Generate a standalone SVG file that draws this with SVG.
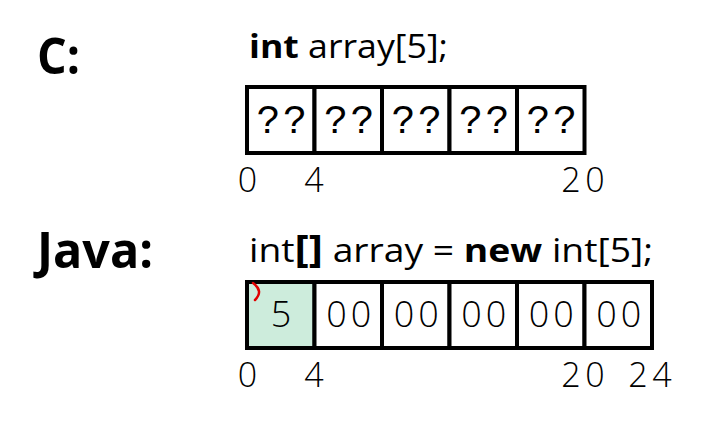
<svg xmlns="http://www.w3.org/2000/svg" width="702" height="424" viewBox="0 0 702 424">
<style>
.title{font-family:"Open Sans","Liberation Sans",sans-serif;font-weight:bold;font-size:50px;fill:#000}
.code{font-family:"Open Sans","Liberation Sans",sans-serif;font-size:33px;fill:#000}
.b{font-weight:bold}
.cell{fill:#fff;stroke:#000;stroke-width:4}
.first{fill:#cdecdc;stroke:#000;stroke-width:4}
.val{font-family:"Open Sans","Liberation Sans",sans-serif;font-weight:300;font-size:36px;fill:#000;text-anchor:middle}
.q{font-family:"Liberation Mono","DejaVu Sans Mono",monospace;font-size:40px;fill:#000;text-anchor:middle}
.lbl{font-family:"Open Sans","Liberation Sans",sans-serif;font-weight:300;font-size:34px;fill:#000;text-anchor:middle}
</style>
<rect width="702" height="424" fill="#fff"/>
<g id="c-title">
<text class="title" x="37" y="74" textLength="43" lengthAdjust="spacingAndGlyphs">C:</text>
<text class="code" x="249" y="58" textLength="199" lengthAdjust="spacingAndGlyphs"><tspan class="b">int</tspan> array[5];</text>
</g>
<g id="c-array">
<rect class="cell" x="247" y="87" width="67.5" height="66"/>
<rect class="cell" x="314.5" y="87" width="67.5" height="66"/>
<rect class="cell" x="382" y="87" width="67.5" height="66"/>
<rect class="cell" x="449.5" y="87" width="67.5" height="66"/>
<rect class="cell" x="517" y="87" width="67.5" height="66"/>
<text class="q" x="268.5 295" y="133">??</text>
<text class="q" x="336 362.5" y="133">??</text>
<text class="q" x="403.5 430" y="133">??</text>
<text class="q" x="471 497.5" y="133">??</text>
<text class="q" x="538.5 565" y="133">??</text>
</g>
<g id="c-labels">
<text class="lbl" x="247.5" y="192">0</text>
<text class="lbl" x="314" y="192">4</text>
<text class="lbl" x="571 595" y="192">20</text>
</g>
<g id="java-title">
<text class="title" x="37" y="268" textLength="116" lengthAdjust="spacingAndGlyphs">Java:</text>
<text class="code" x="249" y="262" textLength="404" lengthAdjust="spacingAndGlyphs">int<tspan class="b" font-size="38">[]</tspan> array = <tspan class="b">new</tspan> int[5];</text>
</g>
<g id="java-array">
<rect class="first" x="247" y="282" width="67.5" height="66"/>
<rect class="cell" x="314.5" y="282" width="67.5" height="66"/>
<rect class="cell" x="382" y="282" width="67.5" height="66"/>
<rect class="cell" x="449.5" y="282" width="67.5" height="66"/>
<rect class="cell" x="517" y="282" width="67.5" height="66"/>
<rect class="cell" x="584.5" y="282" width="67.5" height="66"/>
<text class="val" x="281" y="327">5</text>
<text class="val" x="336.5 361" y="327">00</text>
<text class="val" x="404 428.5" y="327">00</text>
<text class="val" x="471.5 496" y="327">00</text>
<text class="val" x="539 563.5" y="327">00</text>
<text class="val" x="606.5 631" y="327">00</text>
<path d="M253,283 Q264,291 255,300" fill="none" stroke="#e00000" stroke-width="2.5" stroke-linecap="round"/>
</g>
<g id="java-labels">
<text class="lbl" x="247.5" y="387">0</text>
<text class="lbl" x="314" y="387">4</text>
<text class="lbl" x="571 595" y="387">20</text>
<text class="lbl" x="638 662" y="387">24</text>
</g>
<g id="connectors"></g>
</svg>
